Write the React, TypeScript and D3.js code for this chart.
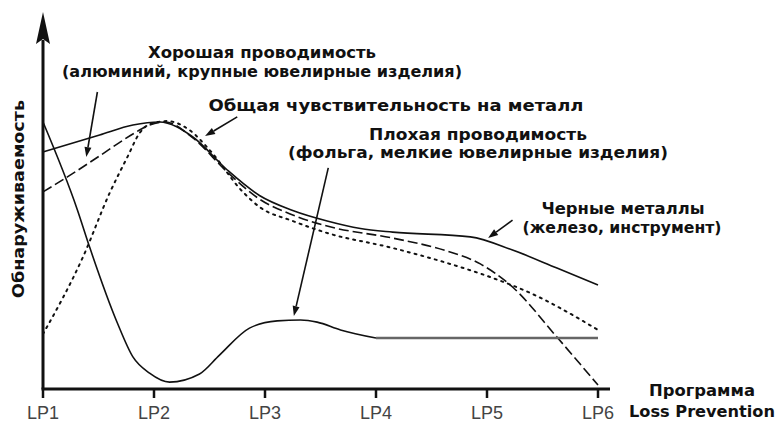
import React from "react";
import * as d3 from "d3";

// ---------- data (x in program units LP1..LP6, y = detectability, arbitrary units) ----------
const LP_LABELS = ["LP1", "LP2", "LP3", "LP4", "LP5", "LP6"];
const LP_POS = [1, 2, 3, 4, 5, 6];

// Черные металлы (solid)
const FERROUS_X = [1.0, 1.51, 1.81, 2.05, 2.35, 2.66, 2.95, 3.25, 3.56, 3.86, 4.15, 4.85, 5.23, 5.63, 6.0];
const FERROUS_Y = [79, 84.7, 88, 89, 84, 73, 64.5, 59.5, 56, 53.5, 52.3, 50.7, 46.3, 40.3, 34.7];

// Хорошая проводимость (dashed)
const GOOD_X = [1.0, 1.22, 1.51, 1.81, 1.96, 2.1, 2.35, 2.66, 2.95, 3.25, 3.56, 4.15, 4.64, 4.94, 5.23, 5.63, 6.0];
const GOOD_Y = [65.7, 70.7, 77.7, 85, 88, 89, 83.7, 72.3, 63.3, 58, 54.3, 50.3, 46, 41.7, 34, 17.3, 1.3];

// Общая чувствительность на металл (dotted)
const TOTAL_X = [1.0, 1.36, 1.6, 1.76, 1.87, 1.99, 2.12, 2.32, 2.5, 2.8, 2.95, 3.25, 3.56, 4.15, 4.64, 5.03, 5.39, 6.0];
const TOTAL_Y = [18.3, 44, 65.3, 77.3, 85.3, 88.7, 89.3, 86.3, 79.7, 65.7, 60.7, 56, 52, 47, 42, 37.3, 32, 19.7];

// Плохая проводимость (solid, lower)
const POOR_X = [1.0, 1.31, 1.42, 1.67, 1.81, 1.96, 2.14, 2.41, 2.59, 2.86, 3.11, 3.32, 3.47, 3.68, 4.0];
const POOR_Y = [89, 59.7, 47.3, 22, 10.7, 5.3, 2.3, 5, 11.3, 20.3, 22.7, 23, 22.3, 19.7, 17];
const POOR_FLAT_X = [4.0, 6.0];
const POOR_FLAT_Y = [17, 17];

// annotation arrows: [fromX, fromY, toX, toY] in data units
const ARROW_GOOD = [1.49, 99, 1.39, 77.3];
const ARROW_TOTAL = [2.75, 90.7, 2.46, 84.3];
const ARROW_POOR = [3.57, 73.7, 3.26, 24.3];
const ARROW_FERROUS = [5.23, 56.3, 5.01, 50.3];

const W = 776;
const H = 422;

const x = d3.scaleLinear().domain([1, 6]).range([43, 598]);
const y = d3.scaleLinear().domain([0, 120]).range([389, 29]);

const zip = (xs: number[], ys: number[]) => xs.map((v, i) => [v, ys[i]] as [number, number]);

const line = d3
  .line<[number, number]>()
  .x((d) => x(d[0]))
  .y((d) => y(d[1]))
  .curve(d3.curveMonotoneX);

const BOLD = "'DejaVu Sans', 'Liberation Sans', Arial, sans-serif";
const REG = "'Liberation Sans', Arial, sans-serif";

function Arrow({ a }: { a: number[] }) {
  const x1 = x(a[0]), y1 = y(a[1]), x2 = x(a[2]), y2 = y(a[3]);
  const ang = Math.atan2(y2 - y1, x2 - x1);
  const len = 10, hw = 3.5;
  const bx = x2 - len * Math.cos(ang), by = y2 - len * Math.sin(ang);
  const px = -Math.sin(ang) * hw, py = Math.cos(ang) * hw;
  return (
    <g>
      <line x1={x1} y1={y1} x2={bx} y2={by} stroke="#111" strokeWidth={1.6} />
      <polygon points={`${x2},${y2} ${bx + px},${by + py} ${bx - px},${by - py}`} fill="#111" />
    </g>
  );
}

function Label({ cx, by, w, size = 16, children }: { cx: number; by: number; w: number; size?: number; children: string }) {
  return (
    <text
      x={cx - w / 2}
      y={by}
      textLength={w}
      lengthAdjust="spacingAndGlyphs"
      style={{ fontFamily: BOLD, fontWeight: 700, fontSize: size, fill: "#111" }}
    >
      {children}
    </text>
  );
}

export default function App() {
  const axisX = x(1);
  const baseY = y(0);
  return (
    <svg
      width={W}
      height={H}
      viewBox={`0 0 ${W} ${H}`}
      style={{ position: "absolute", left: 0, top: 0, background: "#fff" }}
    >
      <rect x={0} y={0} width={W} height={H} fill="#fff" />

      {/* curves */}
      <path d={line(zip(TOTAL_X, TOTAL_Y)) || ""} fill="none" stroke="#111" strokeWidth={2} strokeDasharray="2,5" strokeLinecap="round" />
      <path d={line(zip(GOOD_X, GOOD_Y)) || ""} fill="none" stroke="#111" strokeWidth={1.6} strokeDasharray="10,4" />
      <path d={line(zip(FERROUS_X, FERROUS_Y)) || ""} fill="none" stroke="#111" strokeWidth={1.6} />
      <path d={line(zip(POOR_X, POOR_Y)) || ""} fill="none" stroke="#111" strokeWidth={1.6} />
      <path d={line(zip(POOR_FLAT_X, POOR_FLAT_Y)) || ""} fill="none" stroke="#666" strokeWidth={2.6} />

      {/* axes */}
      <line x1={axisX} y1={baseY} x2={axisX} y2={40} stroke="#111" strokeWidth={3} />
      <polygon points={`${axisX},12 ${axisX - 7},44 ${axisX},39 ${axisX + 7},44`} fill="#111" />
      <line x1={axisX - 1.5} y1={baseY} x2={610} y2={baseY} stroke="#111" strokeWidth={3} />
      {LP_POS.map((p, i) => (
        <g key={LP_LABELS[i]}>
          <line x1={x(p)} y1={baseY} x2={x(p)} y2={baseY + 9} stroke="#111" strokeWidth={2.5} />
          <text x={x(p)} y={419} textAnchor="middle" style={{ fontFamily: REG, fontSize: 18, fill: "#444" }}>
            {LP_LABELS[i]}
          </text>
        </g>
      ))}

      {/* axis titles */}
      <Label cx={702} by={396} w={106} size={15}>Программа</Label>
      <Label cx={702} by={417} w={146} size={15}>Loss Prevention</Label>
      <g transform={`translate(24, 199) rotate(-90)`}>
        <Label cx={0} by={0} w={198} size={16}>Обнаруживаемость</Label>
      </g>

      {/* annotations */}
      <Label cx={262} by={58} w={228}>Хорошая проводимость</Label>
      <Label cx={262} by={77} w={400}>(алюминий, крупные ювелирные изделия)</Label>
      <Label cx={396} by={111} w={375}>Общая чувствительность на металл</Label>
      <Label cx={478} by={140} w={218}>Плохая проводимость</Label>
      <Label cx={478} by={158} w={380}>(фольга, мелкие ювелирные изделия)</Label>
      <Label cx={623} by={214} w={163}>Черные металлы</Label>
      <Label cx={622} by={233} w={199}>(железо, инструмент)</Label>

      <Arrow a={ARROW_GOOD} />
      <Arrow a={ARROW_TOTAL} />
      <Arrow a={ARROW_POOR} />
      <Arrow a={ARROW_FERROUS} />
    </svg>
  );
}
